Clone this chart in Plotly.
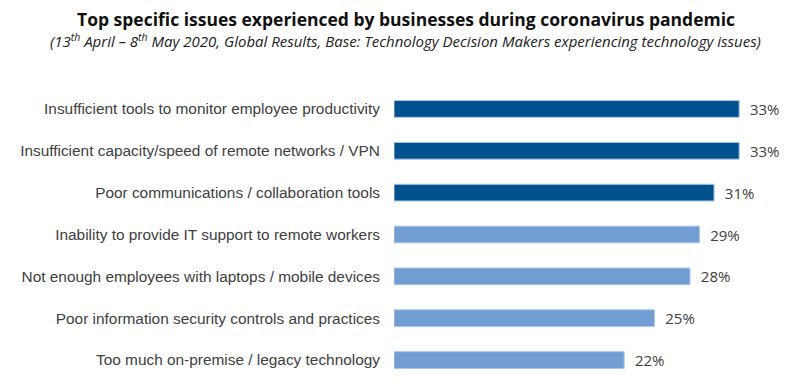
import plotly.graph_objects as go

categories = [
    "Insufficient tools to monitor employee productivity",
    "Insufficient capacity/speed of remote networks / VPN",
    "Poor communications / collaboration tools",
    "Inability to provide IT support to remote workers",
    "Not enough employees with laptops / mobile devices",
    "Poor information security controls and practices",
    "Too much on-premise / legacy technology",
]
# bar lengths (labels show rounded %)
values = [33.0, 33.0, 30.6, 29.2, 28.3, 24.9, 22.0]
bar_colors = ["#00528F", "#00528F", "#00528F", "#729ED3", "#729ED3", "#729ED3", "#729ED3"]
value_labels = [f"  {round(v)}%" for v in values]

OFF = 8  # page body margin
W = 800 - OFF
H = 381 - OFF
L = 394 - OFF
T = 88 - OFF
R = 800 - 781
PH = H - T
PW = W - L - R

fig = go.Figure(go.Bar(
    x=values, y=categories, orientation="h",
    marker=dict(color=bar_colors, line=dict(color="#A9C6E8", width=1)),
    width=0.4,
    text=value_labels, textposition="outside", cliponaxis=False,
    constraintext="none",
    textfont=dict(family="Open Sans", size=15, color="#404040"),
))

def px_x(x):
    return (x - OFF - L) / PW

def px_y(y):
    return (H - (y - OFF)) / PH

fig.update_layout(
    width=W, height=H,
    margin=dict(l=L, r=R, t=T, b=0, autoexpand=False),
    paper_bgcolor="white", plot_bgcolor="white",
    showlegend=False,
    xaxis=dict(range=[0, 37], visible=False),
    yaxis=dict(range=[6.5, -0.5], showgrid=False, showline=False, zeroline=False,
               ticks="", ticklabelstandoff=13, automargin=False,
               tickfont=dict(family="Arial", size=15.4, color="#404040")),
    annotations=[
        dict(text="<b>Top specific issues experienced by businesses during coronavirus pandemic</b>",
             xref="paper", yref="paper", x=px_x(406), y=px_y(19),
             xanchor="center", yanchor="middle", showarrow=False,
             font=dict(family="Open Sans", size=17.5, color="#111111")),
        dict(text="<i>(13<sup>th</sup> April – 8<sup>th</sup> May 2020, Global Results, Base: Technology Decision Makers experiencing technology issues)</i>",
             xref="paper", yref="paper", x=px_x(405), y=px_y(40),
             xanchor="center", yanchor="middle", showarrow=False,
             font=dict(family="Open Sans", size=15, color="#222222")),
    ],
)
fig.write_html("out.html")
